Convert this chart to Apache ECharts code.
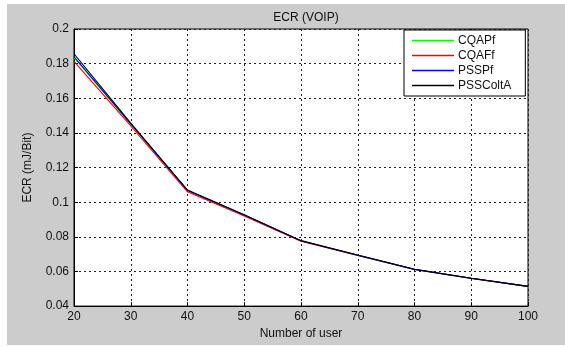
<!DOCTYPE html>
<html>
<head>
<meta charset="utf-8">
<script src="https://cdn.jsdelivr.net/npm/echarts@6/dist/echarts.min.js"></script>
<style>
  html, body { margin: 0; padding: 0; background: #fff; }
  #chart { position: absolute; left: 7px; top: 4px; width: 558px; height: 341px; background: #cccccc; }
</style>
</head>
<body>
<div id="chart"></div>
<script>
const users = [20, 30, 40, 50, 60, 70, 80, 90, 100]
const cqapf = [0.1835, 0.1450, 0.1068, 0.0925, 0.0776, 0.0693, 0.0612, 0.0560, 0.0514]
const cqaff = [0.1813, 0.1440, 0.1060, 0.0920, 0.0774, 0.0692, 0.0611, 0.0560, 0.0514]
const psspf = [0.1840, 0.1452, 0.1068, 0.0926, 0.0777, 0.0694, 0.0612, 0.0561, 0.0514]
const psscolta = [0.1857, 0.1456, 0.1070, 0.0927, 0.0778, 0.0695, 0.0613, 0.0561, 0.0514]
const seriesNames = ['CQAPf', 'CQAFf', 'PSSPf', 'PSSColtA']
const xTicks = [20, 100, 10]
const yTicks = [0.04, 0.2, 0.02]

const colors = ['#00ff00', '#ff0000', '#0000ff', '#000000']
const values = [cqapf, cqaff, psspf, psscolta]
const font = 'Liberation Sans, Arial, sans-serif'

const chart = echarts.init(document.getElementById('chart'))

const gridLine = { show: true, lineStyle: { color: '#222', type: [2, 3], width: 1 } }

chart.setOption({
  animation: false,
  textStyle: { fontFamily: font },
  title: {
    text: 'ECR (VOIP)',
    left: 294, top: 3, textAlign: 'center',
    textStyle: { fontSize: 12, fontWeight: 'normal', color: '#111', fontFamily: font },
  },
  grid: { left: 67, right: 37, top: 25, bottom: 36, show: true, borderColor: '#000', borderWidth: 1, backgroundColor: '#fff' },
  legend: {
    orient: 'vertical',
    left: 397, top: 26,
    padding: [3, 14, 3, 8],
    backgroundColor: '#fff', borderColor: '#000', borderWidth: 1, borderRadius: 0,
    itemWidth: 42, itemHeight: 1.5, itemGap: 0,
    icon: 'rect',
    data: seriesNames,
    textStyle: { fontSize: 12, color: '#111', lineHeight: 15, padding: [0, 0, 0, -1], fontFamily: font },
  },
  xAxis: {
    type: 'value', min: xTicks[0], max: xTicks[1], interval: xTicks[2],
    name: 'Number of user', nameLocation: 'middle', nameGap: 17,
    nameTextStyle: { fontSize: 12, color: '#111', fontFamily: font },
    axisLine: { lineStyle: { color: '#000' } },
    axisTick: { inside: true, length: 4, lineStyle: { color: '#000' } },
    axisLabel: { fontSize: 12, color: '#111', margin: 5, fontFamily: font },
    splitLine: gridLine,
  },
  yAxis: {
    type: 'value', min: yTicks[0], max: yTicks[1], interval: yTicks[2],
    name: 'ECR (mJ/Bit)', nameLocation: 'middle', nameGap: 40, nameRotate: 90,
    nameTextStyle: { fontSize: 12, color: '#111', fontFamily: font },
    axisLine: { lineStyle: { color: '#000' } },
    axisTick: { inside: true, length: 4, lineStyle: { color: '#000' } },
    axisLabel: { fontSize: 12, color: '#111', margin: 5, fontFamily: font, formatter: v => String(+v.toFixed(2)) },
    splitLine: gridLine,
  },
  series: seriesNames.map((name, i) => ({
    name,
    type: 'line',
    symbol: 'none',
    color: colors[i],
    lineStyle: { width: 1.1, color: colors[i] },
    data: users.map((u, j) => [u, values[i][j]]),
  })),
})
</script>
</body>
</html>
